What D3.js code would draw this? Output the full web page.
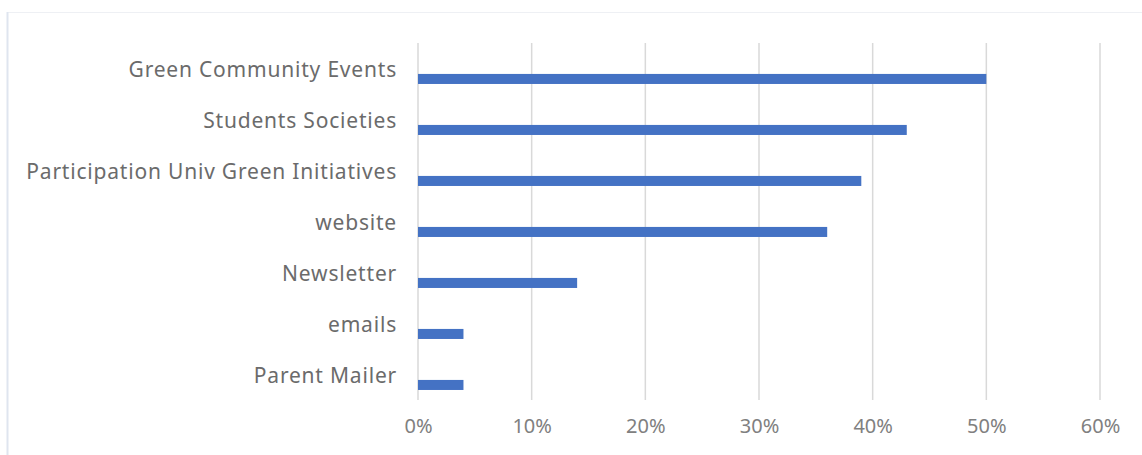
<!DOCTYPE html>
<html>
<head>
<meta charset="utf-8">
<script src="https://cdn.jsdelivr.net/npm/d3@7"></script>
<style>
  html, body { margin: 0; padding: 0; background: #ffffff; }
  svg { display: block; }
</style>
</head>
<body>
<svg id="chart" width="1142" height="455"></svg>
<script>
// Channels ranked by share of respondents
const categories = [
  "Green Community Events",
  "Students Societies",
  "Participation Univ Green Initiatives",
  "website",
  "Newsletter",
  "emails",
  "Parent Mailer"
];
const shares = [0.50, 0.43, 0.39, 0.36, 0.14, 0.04, 0.04];
const tickValues = [0, 0.1, 0.2, 0.3, 0.4, 0.5, 0.6];

const svg = d3.select("#chart");
const W = 1142, H = 455;
const plot = { left: 418, right: 1100, top: 43, bottom: 400 };

// faint frame around the chart area
svg.append("rect")
  .attr("x", 7.5).attr("y", 12.5)
  .attr("width", W + 20).attr("height", H + 20)
  .attr("fill", "none")
  .attr("stroke", "#eef0f4")
  .attr("stroke-width", 1);
svg.append("line")
  .attr("x1", 7.5).attr("x2", 7.5).attr("y1", 12).attr("y2", H)
  .attr("stroke", "#dfe5ef").attr("stroke-width", 2);

const x = d3.scaleLinear().domain([0, 0.6]).range([plot.left, plot.right]);
const y = d3.scaleBand().domain(categories).range([plot.top, plot.bottom]);

// each band holds an empty slot above the bar, as in a two-slot cluster
const slot = d3.scaleBand().domain(["gap", "share"])
  .range([0, y.bandwidth()]).paddingInner(0.52).paddingOuter(0.48);

// vertical gridlines
svg.append("g")
  .selectAll("line")
  .data(tickValues)
  .join("line")
  .attr("x1", d => x(d)).attr("x2", d => x(d))
  .attr("y1", plot.top).attr("y2", plot.bottom)
  .attr("stroke", "#d9d9d9")
  .attr("stroke-width", 1.5);

// bars
svg.append("g")
  .selectAll("rect")
  .data(categories.map((c, i) => ({ c, v: shares[i] })))
  .join("rect")
  .attr("x", x(0))
  .attr("y", d => y(d.c) + slot("share"))
  .attr("width", d => x(d.v) - x(0))
  .attr("height", slot.bandwidth())
  .attr("fill", "#4472c4");

// x axis tick labels
const xAxis = d3.axisBottom(x)
  .tickValues(tickValues)
  .tickFormat(d3.format(".0%"))
  .tickSize(0)
  .tickPadding(0);
const gx = svg.append("g")
  .attr("transform", `translate(0,${plot.bottom + 23})`)
  .call(xAxis);
gx.select(".domain").remove();
gx.selectAll("text")
  .attr("fill", "#808080")
  .attr("font-family", "'Noto Sans', 'DejaVu Sans', sans-serif")
  .attr("font-size", 20)
  .attr("dy", "0.5em");

// category labels
const yAxis = d3.axisLeft(y).tickSize(0).tickPadding(21);
const gy = svg.append("g")
  .attr("transform", `translate(${plot.left},0)`)
  .call(yAxis);
gy.select(".domain").remove();
gy.selectAll("text")
  .attr("fill", "#6b6b6b")
  .attr("font-family", "'Noto Sans', 'DejaVu Sans', sans-serif")
  .attr("font-size", 21)
  .attr("letter-spacing", "0.8px")
  .attr("dy", "0.4em");
</script>
</body>
</html>
